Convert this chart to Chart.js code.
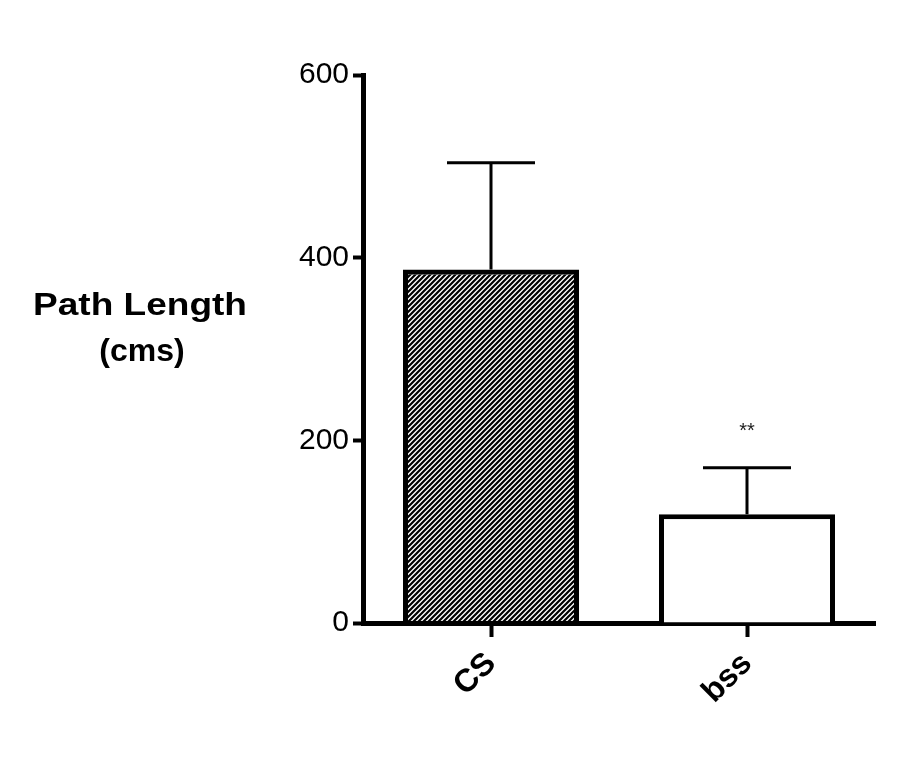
<!DOCTYPE html>
<html lang="en">

<head>
    <meta charset="UTF-8">
    <title>Path Length</title>
    <script src="https://cdn.jsdelivr.net/npm/chart.js"></script>
    <style>
        body {
            margin: 0;
            background: #fff;
        }

        #wrap {
            width: 900px;
            height: 771px;
        }
    </style>
</head>

<body>
    <div id="wrap"><canvas id="mycanvas" width="900" height="771"></canvas></div>

    <script type="text/javascript">
        // data
        var groups = ['CS', 'bss'];
        var means = [387, 119];
        var errTops = [504, 170];
        var sigMarks = ['', '**'];
        var yTicks = [0, 200, 400, 600];
        var yTitle = ['Path Length', '(cms)'];

        var FONT = "'Liberation Sans', Arial, Helvetica, sans-serif";

        // diagonal hatch for the first bar
        function makeHatch() {
            var c = document.createElement('canvas');
            c.width = 5;
            c.height = 5;
            var g = c.getContext('2d');
            g.strokeStyle = '#000';
            g.lineWidth = 2.2;
            g.beginPath();
            g.moveTo(-1, 6); g.lineTo(6, -1);
            g.moveTo(-1, 1); g.lineTo(1, -1);
            g.moveTo(4, 6); g.lineTo(6, 4);
            g.stroke();
            return g.createPattern(c, 'repeat');
        }

        var errorBars = {
            id: 'errorBars',
            afterDatasetsDraw: function (chart) {
                var ctx = chart.ctx;
                var y = chart.scales.y;
                var meta = chart.getDatasetMeta(0);
                ctx.save();
                ctx.strokeStyle = '#000';
                ctx.lineWidth = 3;
                meta.data.forEach(function (bar, i) {
                    var top = y.getPixelForValue(errTops[i]);
                    var base = y.getPixelForValue(means[i]);
                    var half = bar.width / 4;
                    ctx.beginPath();
                    ctx.moveTo(bar.x, base);
                    ctx.lineTo(bar.x, top);
                    ctx.moveTo(bar.x - half, top);
                    ctx.lineTo(bar.x + half, top);
                    ctx.stroke();
                    if (sigMarks[i]) {
                        ctx.fillStyle = '#222';
                        ctx.font = '20px ' + FONT;
                        ctx.textAlign = 'center';
                        ctx.textBaseline = 'middle';
                        ctx.fillText(sigMarks[i], bar.x, top - 36);
                    }
                });
                ctx.restore();
            }
        };

        // horizontal y axis title on the left
        var sideTitle = {
            id: 'sideTitle',
            afterDraw: function (chart) {
                var ctx = chart.ctx;
                ctx.save();
                ctx.fillStyle = '#000';
                ctx.font = 'bold 32px ' + FONT;
                ctx.textAlign = 'center';
                ctx.textBaseline = 'alphabetic';
                // first line is drawn a bit wider, as in the original
                var w = ctx.measureText(yTitle[0]).width;
                ctx.save();
                ctx.translate(140, 315);
                ctx.scale(214 / w, 1);
                ctx.fillText(yTitle[0], 0, 0);
                ctx.restore();
                ctx.fillText(yTitle[1], 142, 361);
                ctx.restore();
            }
        };

        var ctx = document.getElementById('mycanvas').getContext('2d');

        new Chart(ctx, {
            type: 'bar',
            data: {
                labels: groups,
                datasets: [{
                    data: means,
                    backgroundColor: [makeHatch(), '#fff'],
                    borderColor: '#000',
                    borderWidth: 5,
                    borderSkipped: 'start',
                    categoryPercentage: 1,
                    barPercentage: 0.6875
                }]
            },
            plugins: [errorBars, sideTitle],
            options: {
                responsive: false,
                animation: false,
                layout: {
                    padding: { top: 75, right: 25, left: 0, bottom: 0 }
                },
                plugins: {
                    legend: { display: false },
                    tooltip: { enabled: false }
                },
                scales: {
                    x: {
                        offset: true,
                        border: { color: '#000', width: 5 },
                        grid: {
                            offset: false,
                            drawOnChartArea: false,
                            drawTicks: true,
                            tickLength: 14,
                            tickWidth: 4,
                            color: '#000',
                            tickColor: '#000'
                        },
                        ticks: {
                            color: '#000',
                            font: { family: FONT, size: 32, weight: 'bold' },
                            minRotation: 45,
                            maxRotation: 45,
                            padding: 8
                        },
                        afterFit: function (scale) {
                            scale.height = 148;
                        }
                    },
                    y: {
                        min: 0,
                        max: 600,
                        border: { color: '#000', width: 5 },
                        grid: {
                            drawOnChartArea: false,
                            drawTicks: true,
                            tickLength: 10,
                            tickWidth: 4,
                            color: '#000',
                            tickColor: '#000'
                        },
                        afterBuildTicks: function (scale) {
                            scale.ticks = yTicks.map(function (v) { return { value: v }; });
                        },
                        ticks: {
                            color: '#000',
                            font: { family: FONT, size: 30 },
                            padding: 4
                        },
                        afterFit: function (scale) {
                            scale.width = 363;
                        }
                    }
                }
            }
        });
    </script>

</body>

</html>
